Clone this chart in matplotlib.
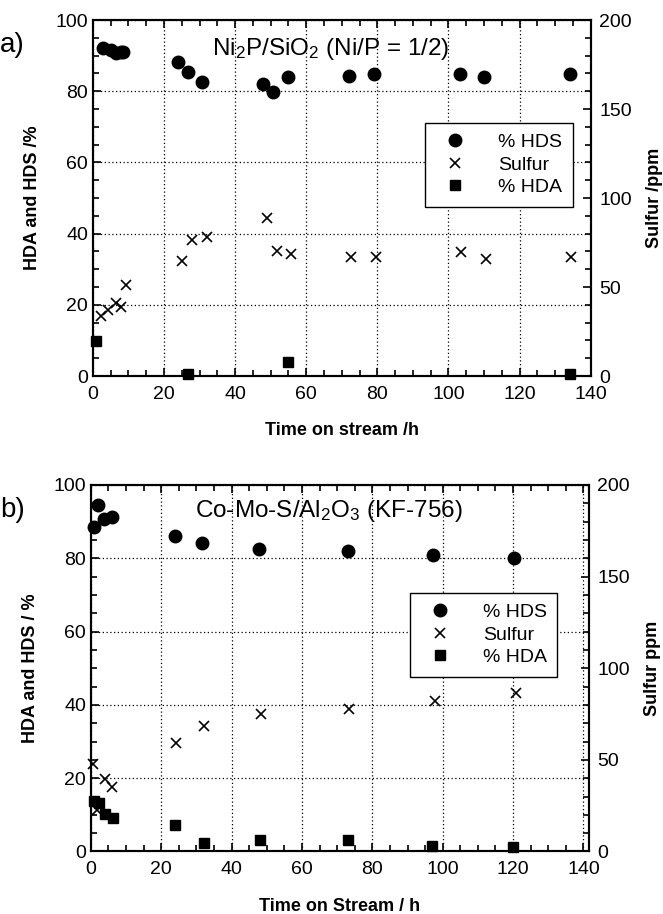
import numpy as np
import matplotlib
matplotlib.use("Agg")
import matplotlib.pyplot as plt
from matplotlib.ticker import MultipleLocator

plt.rcParams['font.family'] = ['Liberation Sans', 'DejaVu Sans']
plt.rcParams['mathtext.fontset'] = 'custom'
plt.rcParams['mathtext.rm'] = 'Liberation Sans'
plt.rcParams['mathtext.it'] = 'Liberation Sans:italic'

# panel a) Ni2P/SiO2
a_hds_t = [2.9, 5.0, 6.4, 7.8, 8.6, 23.9, 26.9, 30.8, 47.8, 50.8, 54.9, 72.0, 79.0, 103.2, 110.0, 134.1]
a_hds = [92.2, 91.5, 90.8, 91.0, 91.0, 88.3, 85.3, 82.5, 82.1, 79.9, 83.9, 84.4, 84.7, 84.7, 84.0, 84.9]
a_sul_t = [2.4, 4.3, 6.4, 7.8, 9.4, 25.0, 28.0, 32.0, 48.9, 51.8, 55.8, 72.7, 79.7, 103.4, 110.5, 134.4]
a_sul = [33.8, 37.2, 40.8, 39.0, 51.0, 64.4, 76.4, 78.0, 88.6, 70.4, 68.6, 67.0, 66.6, 69.4, 66.0, 66.6]
a_hda_t = [0.9, 26.8, 55.0, 134.3]
a_hda = [9.9, 0.7, 3.9, 0.5]

# panel b) Co-Mo-S/Al2O3
b_hds_t = [0.9, 1.9, 3.8, 6.1, 23.9, 31.7, 47.8, 73.1, 97.1, 120.2]
b_hds = [88.6, 94.5, 90.6, 91.3, 86.2, 84.2, 82.6, 82.1, 80.9, 80.0]
b_sul_t = [0.6, 1.8, 4.1, 6.0, 24.2, 32.2, 48.4, 73.4, 97.8, 120.8]
b_sul = [47.6, 22.6, 39.4, 35.4, 59.3, 68.4, 74.9, 77.8, 82.0, 86.4]
b_hda_t = [0.8, 2.2, 4.1, 6.2, 24.0, 32.2, 48.1, 73.0, 97.0, 120.0]
b_hda = [13.8, 13.2, 10.2, 9.2, 7.3, 2.4, 3.0, 3.0, 1.5, 1.2]

panels = [
    dict(rect=[0.140, 0.5886, 0.751, 0.3895], tag='a)',
         title='Ni$_2$P/SiO$_2$ (Ni/P = 1/2)', title_xy=(0.24, 0.918),
         hds=(a_hds_t, a_hds), sul=(a_sul_t, a_sul), hda=(a_hda_t, a_hda),
         xlabel='Time on stream /h', ylabel='HDA and HDS /%', y2label='Sulfur /ppm',
         leg=(0.964, 0.711), xmax=140),
    dict(rect=[0.137, 0.0684, 0.751, 0.401], tag='b)',
         title='Co-Mo-S/Al$_2$O$_3$ (KF-756)', title_xy=(0.209, 0.928),
         hds=(b_hds_t, b_hds), sul=(b_sul_t, b_sul), hda=(b_hda_t, b_hda),
         xlabel='Time on Stream / h', ylabel='HDA and HDS / %', y2label='Sulfur ppm',
         leg=(0.937, 0.706), xmax=141.5),
]

fig = plt.figure(figsize=(6.63, 9.14), dpi=100)

for p in panels:
    ax = fig.add_axes(p['rect'])
    ax2 = ax.twinx()
    h1, = ax.plot(*p['hds'], 'o', color='black', markersize=9, clip_on=False, label='% HDS')
    h3, = ax.plot(*p['hda'], 's', color='black', markersize=7.5, clip_on=False, label='% HDA')
    h2, = ax2.plot(*p['sul'], 'x', color='black', markersize=7.5, mew=1.2, clip_on=False, label='Sulfur')

    ax.set_xlim(0, p['xmax'])
    ax.set_ylim(0, 100)
    ax2.set_ylim(0, 200)
    ax.set_xticks(np.arange(0, 141, 20))
    ax.xaxis.set_minor_locator(MultipleLocator(5))
    ax.yaxis.set_major_locator(MultipleLocator(20))
    ax.yaxis.set_minor_locator(MultipleLocator(5))
    ax2.yaxis.set_major_locator(MultipleLocator(50))
    ax2.yaxis.set_minor_locator(MultipleLocator(10))

    ax.tick_params(which='both', direction='in', top=True, labelsize=14, width=1.2, color='black')
    ax.tick_params(which='major', length=6)
    ax.tick_params(which='minor', length=4)
    ax.tick_params(axis='x', pad=7)
    ax2.tick_params(which='both', direction='in', labelsize=14, width=1.2, pad=6)
    ax2.tick_params(which='major', length=6)
    ax2.tick_params(which='minor', length=4)

    ax.grid(True, which='major', linestyle=(0, (1, 2)), color='black', linewidth=0.9)
    for a in (ax, ax2):
        for s in a.spines.values():
            s.set_linewidth(1.5)

    ax.set_xlabel(p['xlabel'], fontsize=13, fontweight='bold', labelpad=14)
    ax.set_ylabel(p['ylabel'], fontsize=13, fontweight='bold', labelpad=10)
    ax2.set_ylabel(p['y2label'], fontsize=13, fontweight='bold', labelpad=10)

    ax.text(p['title_xy'][0], p['title_xy'][1], p['title'], transform=ax.transAxes,
            fontsize=17.5, va='center', ha='left')
    fig.text(0.0, p['rect'][1] + p['rect'][3] - 0.027, p['tag'], fontsize=20, va='center', ha='left')

    leg = ax2.legend([h1, h2, h3], ['% HDS', 'Sulfur', '% HDA'], loc='upper right',
                     bbox_to_anchor=p['leg'], borderaxespad=0, fontsize=14, frameon=True,
                     fancybox=False, framealpha=1, edgecolor='black', handlelength=2.0,
                     handletextpad=1.2, borderpad=0.55, labelspacing=0.25)
    leg.get_frame().set_linewidth(1.0)

fig.savefig('out.png', dpi=100)
